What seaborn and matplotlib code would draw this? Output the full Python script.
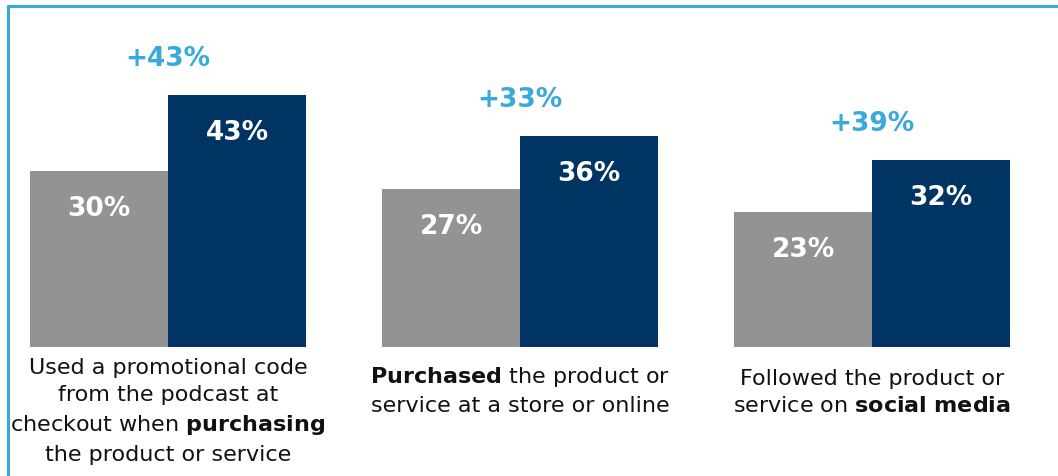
import numpy as np
import pandas as pd
import matplotlib
matplotlib.use('Agg')
import matplotlib.pyplot as plt
from matplotlib.lines import Line2D
import seaborn as sns

# data
categories = [
    "Used a promotional code\nfrom the podcast at\ncheckout when $\\bf{purchasing}$\nthe product or service",
    "$\\bf{Purchased}$ the product or\nservice at a store or online",
    "Followed the product or\nservice on $\\bf{social\\ media}$",
]
series = ["Non-listeners", "Listeners"]
baseline_vals = [30, 27, 23]
listener_vals = [43, 36, 32]
lift_labels = ["+43%", "+33%", "+39%"]

GREY  = '#939393'
NAVY  = '#003462'
BLUE  = '#39a9dc'
LABEL_PAD = [10, 17, 21]   # px gap under the bars for each caption

df = pd.DataFrame({
    'category': categories * 2,
    'series': [series[0]] * 3 + [series[1]] * 3,
    'value': baseline_vals + listener_vals,
})

sns.set_style('white')
plt.rcParams['font.family'] = ['DejaVu Sans']
plt.rcParams['mathtext.fontset'] = 'dejavusans'

fig = plt.figure(figsize=(10.58, 4.77), dpi=100)
ax = fig.add_axes([0, 0, 1, 1])
sns.barplot(data=df, x='category', y='value', hue='series', hue_order=series,
            palette=[GREY, NAVY], width=0.784, gap=0, saturation=1,
            edgecolor='none', linewidth=0, legend=False, ax=ax)

ax.set_xlim(-0.477, 2.528)
ax.set_ylim(-22.0, 59.4)
ax.set_axis_off()

# value labels inside bars
for cont in ax.containers:
    for bar in cont:
        h = bar.get_height()
        ax.annotate(f"{h:.0f}%", (bar.get_x() + bar.get_width() / 2, h),
                    xytext=(0, -37), textcoords='offset pixels',
                    ha='center', va='center', color='white',
                    fontsize=19, fontweight='bold')

# lift labels and category text
for i, (cat, lift) in enumerate(zip(categories, lift_labels)):
    ax.annotate(lift, (i, listener_vals[i]), xytext=(0, 37),
                textcoords='offset pixels', ha='center', va='center',
                color=BLUE, fontsize=19, fontweight='bold')
    ax.annotate(cat, (i, 0), xytext=(0, -LABEL_PAD[i]), textcoords='offset pixels',
                ha='center', va='top', color='#111111', fontsize=16,
                linespacing=1.45)

# frame lines on left and top
x0, y0 = 8 / 1058, 1 - 7 / 477
fig.add_artist(Line2D([x0, x0], [0, y0], color=BLUE, lw=2.2, transform=fig.transFigure))
fig.add_artist(Line2D([x0, 1], [y0, y0], color=BLUE, lw=2.2, transform=fig.transFigure))

fig.savefig('out.png', dpi=100)
